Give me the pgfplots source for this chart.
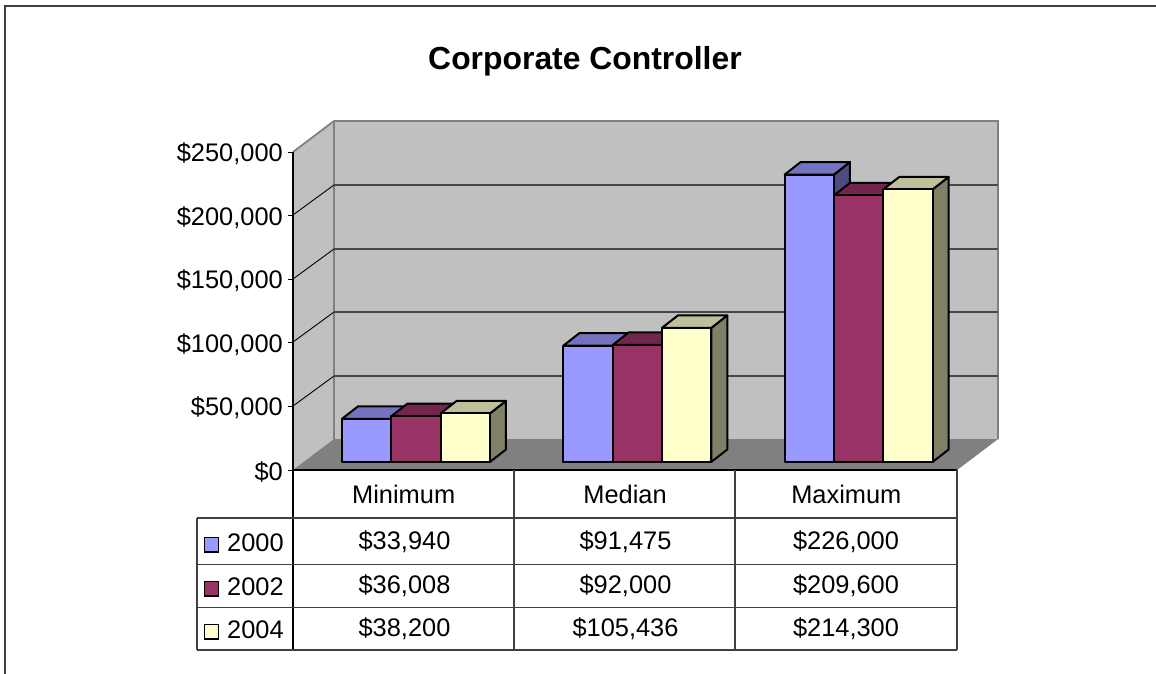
\documentclass[border=0pt]{standalone}
\usepackage{pgfplots}
\pgfplotsset{compat=1.18}
\usepackage{fontspec}
\setmainfont{Liberation Sans}
\definecolor{cA}{HTML}{9999FF}\definecolor{cAt}{HTML}{7373BF}\definecolor{cAs}{HTML}{4D4D80}
\definecolor{cB}{HTML}{993366}\definecolor{cBt}{HTML}{73264D}\definecolor{cBs}{HTML}{4D1A33}
\definecolor{cC}{HTML}{FFFFCC}\definecolor{cCt}{HTML}{BFBF99}\definecolor{cCs}{HTML}{808066}
\newcommand{\tf}{\fontsize{25.5}{30}\selectfont}
% one 3-D bar: category, value, slot (-1,0,1), colour stem
\newcommand{\Bar}[4]{%
  \pgfmathsetmacro{\xl}{#1+(#3*49.3-24.65)/221.33}%
  \pgfmathsetmacro{\xr}{#1+(#3*49.3+24.65)/221.33}%
  \pgfmathsetmacro{\xlb}{\xl+0.0723}%
  \pgfmathsetmacro{\xrb}{\xr+0.0723}%
  \edef\vb{\the\numexpr#2+9827\relax}%
  \addplot[barface,fill=#4s] coordinates {(\xr,0)(\xrb,9827)(\xrb,\vb)(\xr,#2)} --cycle;
  \addplot[barface,fill=#4t] coordinates {(\xl,#2)(\xlb,\vb)(\xrb,\vb)(\xr,#2)} --cycle;
  \addplot[barface,fill=#4] coordinates {(\xl,0)(\xl,#2)(\xr,#2)(\xr,0)} --cycle;
}
\begin{document}
\begin{tikzpicture}
\begin{scope}[x=1bp,y=-1bp]
\path[use as bounding box] (0,0) rectangle (1156,674);
\draw[color=black!75,line width=1.9bp] (5.3,674) -- (5.3,5.7) -- (1156,5.7);
\node[anchor=base,font=\fontsize{32}{36}\selectfont\bfseries] at (585,70) {Corporate Controller};
% walls
\fill[color={rgb,255:red,192;green,192;blue,192}] (293,152) -- (334,121) -- (998,121) -- (998,439) -- (957,470) -- (293,470) -- cycle;
\fill[color={rgb,255:red,128;green,128;blue,128}] (293,470) -- (334,439) -- (998,439) -- (957,470) -- cycle;
\draw[color={rgb,255:red,128;green,128;blue,128},line width=1.8bp] (293,152) -- (334,121) -- (998,121) -- (998,439);
\draw[color={rgb,255:red,128;green,128;blue,128},line width=2.2bp] (334,121) -- (334,439);
\foreach \a/\b in {215/185,279/249,342/312,406/376}{
  \draw[black,line width=0.9bp] (293,\a) -- (334,\b);
  \draw[color=black!72,line width=1.2bp] (334,\b) -- (998,\b);
}
\end{scope}
\begin{axis}[
  at={(293bp,-470bp)},anchor=south west,
  scale only axis,width=664bp,height=318bp,
  xmin=-0.5,xmax=2.5,ymin=0,ymax=250000,
  clip=false,
  axis x line=bottom,axis y line=left,
  axis line style={-,black,line width=1.2bp},
  xtick={0,1,2},xticklabels={Minimum,Median,Maximum},
  x tick style={draw=none},major tick length=5bp,
  tick align=outside,
  xticklabel style={font=\tf,text height=18bp,text depth=0bp,anchor=base,yshift=-28bp},
  ytick={0,50000,100000,150000,200000,250000},
  y tick style={black,line width=1bp},
  scaled y ticks=false,
  yticklabel style={font=\tf,/pgf/number format/fixed,/pgf/number format/1000 sep={,},/pgf/number format/assume math mode=true,inner sep=0pt,xshift=-5bp,yshift=-1.8bp},
  yticklabel={\$\pgfmathprintnumber{\tick}},
  barface/.style={draw=black,line width=2bp,line join=round,xshift=12.3bp,yshift=8bp,mark=none,forget plot},
]
\Bar{0}{33940}{-1}{cA}\Bar{0}{36008}{0}{cB}\Bar{0}{38200}{1}{cC}
\Bar{1}{91475}{-1}{cA}\Bar{1}{92000}{0}{cB}\Bar{1}{105436}{1}{cC}
\Bar{2}{226000}{-1}{cA}\Bar{2}{209600}{0}{cB}\Bar{2}{214300}{1}{cC}
\end{axis}
\begin{scope}[x=1bp,y=-1bp]
\draw[black,line width=1.2bp] (293,470) -- (293,650);
\foreach \x in {514,735,957}{\draw[color=black!75,line width=1.2bp] (\x,470) -- (\x,650);}
\foreach \y in {518,564.5,607.5,650}{\draw[color=black!75,line width=1.2bp] (197,\y) -- (957,\y);}
\draw[color=black!75,line width=1.2bp] (197,518) -- (197,650);
\foreach \yy/\lab/\c/\a/\b/\d in {551/2000/cA/{\$33,940}/{\$91,475}/{\$226,000},595/2002/cB/{\$36,008}/{\$92,000}/{\$209,600},638/2004/cC/{\$38,200}/{\$105,436}/{\$214,300}}{
  \node[anchor=base west,inner sep=0pt,font=\tf] at (227,\yy) {\lab};
  \node[anchor=base,inner sep=0pt,font=\tf] at (404.5,\yy-2) {\a};
  \node[anchor=base,inner sep=0pt,font=\tf] at (625.5,\yy-2) {\b};
  \node[anchor=base,inner sep=0pt,font=\tf] at (846,\yy-2) {\d};
  \draw[black,line width=1.6bp,fill=\c] (204.5,\yy-13.5) rectangle (218.5,\yy+1);
}
\end{scope}
\end{tikzpicture}
\end{document}
